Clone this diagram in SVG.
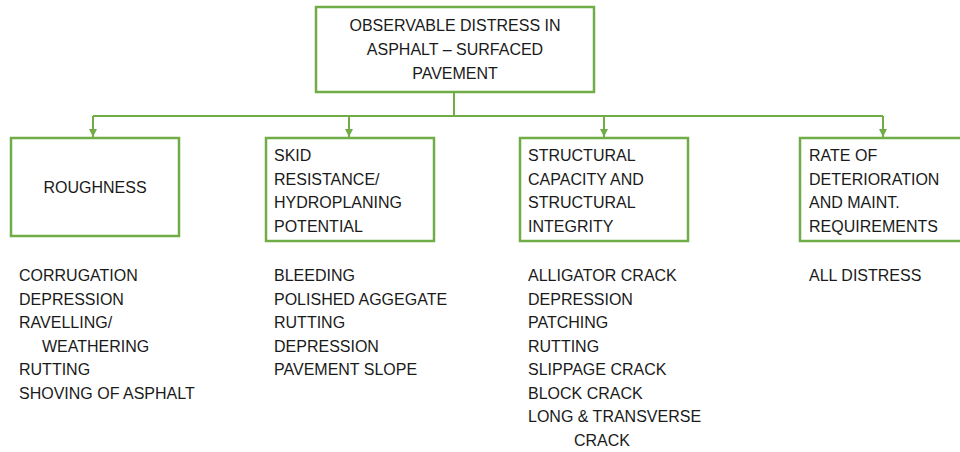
<svg xmlns="http://www.w3.org/2000/svg" width="960" height="452" viewBox="0 0 960 452">
<style>
.box{fill:#fff;stroke:#70AD47;stroke-width:2.5}
.con{fill:none;stroke:#70AD47;stroke-width:2}
text{font-family:"Liberation Sans",Arial,sans-serif;font-size:16px;fill:#1a1a1a}
.c{text-anchor:middle}
</style>
<defs>
<marker id="ah" viewBox="0 0 8 8" refX="8" refY="4" markerWidth="8" markerHeight="8" markerUnits="userSpaceOnUse" orient="auto">
<path d="M0,0 L8,4 L0,8 Z" fill="#70AD47"/>
</marker>
</defs>
<rect width="960" height="452" fill="#fff"/>
<g id="connectors">
<path class="con" d="M454,92 V116"/>
<path class="con" d="M93,116 H883"/>
<path class="con" d="M93,116 V137" marker-end="url(#ah)"/>
<path class="con" d="M349,116 V137" marker-end="url(#ah)"/>
<path class="con" d="M604,116 V137" marker-end="url(#ah)"/>
<path class="con" d="M883,116 V137" marker-end="url(#ah)"/>
</g>
<g id="root">
<rect class="box" x="316" y="7" width="278" height="85"/>
<text class="c" x="455" y="31">OBSERVABLE DISTRESS IN</text>
<text class="c" x="455" y="55">ASPHALT – SURFACED</text>
<text class="c" x="455" y="79">PAVEMENT</text>
</g>
<g id="roughness">
<rect class="box" x="11" y="138" width="168" height="98"/>
<text class="c" x="95" y="193">ROUGHNESS</text>
</g>
<g id="skid">
<rect class="box" x="266" y="138" width="168" height="103"/>
<text x="274" y="161">SKID</text>
<text x="274" y="184.5">RESISTANCE/</text>
<text x="274" y="208">HYDROPLANING</text>
<text x="274" y="231.5">POTENTIAL</text>
</g>
<g id="structural">
<rect class="box" x="520" y="138" width="168" height="103"/>
<text x="528" y="161">STRUCTURAL</text>
<text x="528" y="184.5">CAPACITY AND</text>
<text x="528" y="208">STRUCTURAL</text>
<text x="528" y="231.5">INTEGRITY</text>
</g>
<g id="rate">
<rect class="box" x="800" y="138" width="168" height="103"/>
<text x="809" y="161">RATE OF</text>
<text x="809" y="184.5">DETERIORATION</text>
<text x="809" y="208">AND MAINT.</text>
<text x="809" y="231.5">REQUIREMENTS</text>
</g>
<g id="list-roughness">
<text x="19" y="281">CORRUGATION</text>
<text x="19" y="304.5">DEPRESSION</text>
<text x="19" y="328">RAVELLING/</text>
<text x="42" y="351.5">WEATHERING</text>
<text x="19" y="375">RUTTING</text>
<text x="19" y="398.5">SHOVING OF ASPHALT</text>
</g>
<g id="list-skid">
<text x="274" y="281">BLEEDING</text>
<text x="274" y="304.5">POLISHED AGGEGATE</text>
<text x="274" y="328">RUTTING</text>
<text x="274" y="351.5">DEPRESSION</text>
<text x="274" y="375">PAVEMENT SLOPE</text>
</g>
<g id="list-structural">
<text x="528" y="281">ALLIGATOR CRACK</text>
<text x="528" y="304.5">DEPRESSION</text>
<text x="528" y="328">PATCHING</text>
<text x="528" y="351.5">RUTTING</text>
<text x="528" y="375">SLIPPAGE CRACK</text>
<text x="528" y="398.5">BLOCK CRACK</text>
<text x="528" y="422">LONG &amp; TRANSVERSE</text>
<text x="574" y="445.5">CRACK</text>
</g>
<g id="list-rate">
<text x="809" y="281">ALL DISTRESS</text>
</g>
</svg>
